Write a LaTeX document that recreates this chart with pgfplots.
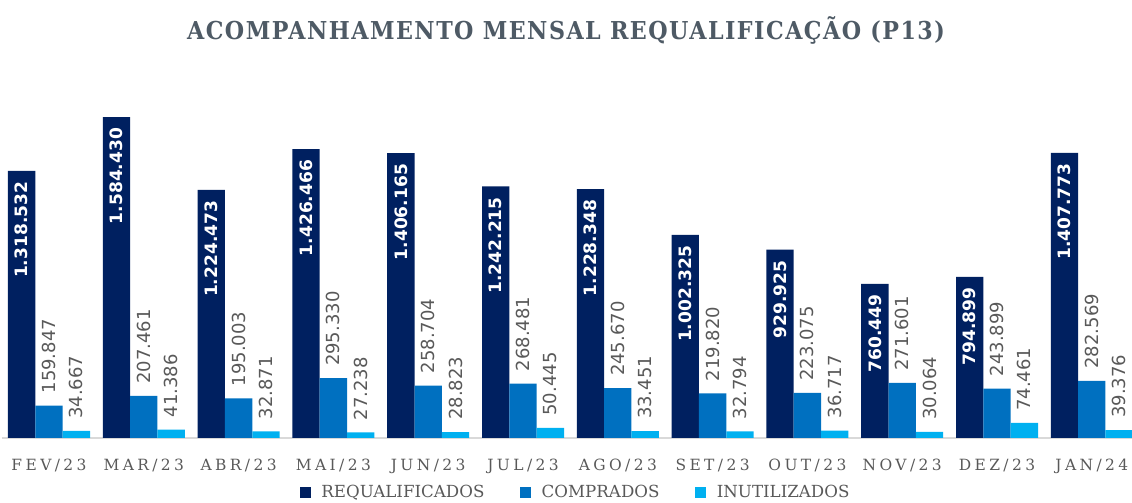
\documentclass[border=0pt]{standalone}
\usepackage{fontspec}
\usepackage{pgfplots}
\pgfplotsset{compat=1.18}
\setmainfont{DejaVu Serif}
\newfontfamily\titlefont[FakeStretch=0.9, LetterSpace=6]{DejaVu Serif}
\newfontfamily\tickfont[LetterSpace=22]{DejaVu Serif}
\newfontfamily\legfont{DejaVu Serif}
\newfontfamily\labfont{DejaVu Sans}
\definecolor{cReq}{HTML}{002060}
\definecolor{cComp}{HTML}{0070C0}
\definecolor{cInut}{HTML}{00B0F0}
\definecolor{cLab}{HTML}{595959}
\definecolor{cTitle}{HTML}{4E5A65}
\begin{document}
\begin{tikzpicture}
\path[use as bounding box] (0pt,-48.75pt) rectangle (849pt,328.5pt);
\begin{axis}[
  at={(1.2pt,0pt)}, anchor=south west,
  scale only axis, width=853.2pt, height=258.3pt,
  ymin=0, ymax=1700000, xmin=-0.5, xmax=11.5,
  ybar=0pt, bar width=20.5pt,
  axis y line=none, axis x line*=bottom,
  x axis line style={draw=black!15, line width=0.8pt, -},
  xtick={0,...,11},
  xticklabels={FEV/23,MAR/23,ABR/23,MAI/23,JUN/23,JUL/23,AGO/23,SET/23,OUT/23,NOV/23,DEZ/23,JAN/24},
  major tick length=0pt,
  xticklabel style={anchor=base, yshift=-24.5pt, font=\tickfont\fontsize{11.6}{11.6}\selectfont, text=cLab},
  clip=false,
  point meta=explicit symbolic,
  nodes near coords={\pgfplotspointmeta},
  legend style={at={(0.505,-0.159)}, anchor=center, draw=none, legend columns=3,
    font=\legfont\fontsize{12.5}{12.5}\selectfont, text=cLab,
    /tikz/every even column/.append style={column sep=25pt},
    /tikz/every odd column/.append style={column sep=6pt}},
  legend image code/.code={\fill[#1] (0pt,-4pt) rectangle (8pt,4pt);},
]
\addplot[fill=cReq, draw=none,
  nodes near coords style={rotate=90, anchor=east, text=white, inner xsep=8pt, inner ysep=0pt,
    font=\labfont\bfseries\fontsize{12.8}{12.8}\selectfont}]
coordinates {
(0,1318532)[1.318.532] (1,1584430)[1.584.430] (2,1224473)[1.224.473] (3,1426466)[1.426.466]
(4,1406165)[1.406.165] (5,1242215)[1.242.215] (6,1228348)[1.228.348] (7,1002325)[1.002.325]
(8,929925)[929.925] (9,760449)[760.449] (10,794899)[794.899] (11,1407773)[1.407.773]};
\addlegendentry{REQUALIFICADOS}
\addplot[fill=cComp, draw=none,
  nodes near coords style={rotate=90, anchor=west, text=cLab, inner xsep=9pt, inner ysep=0pt,
    font=\labfont\fontsize{13.5}{13.5}\selectfont}]
coordinates {
(0,159847)[159.847] (1,207461)[207.461] (2,195003)[195.003] (3,295330)[295.330]
(4,258704)[258.704] (5,268481)[268.481] (6,245670)[245.670] (7,219820)[219.820]
(8,223075)[223.075] (9,271601)[271.601] (10,243899)[243.899] (11,282569)[282.569]};
\addlegendentry{COMPRADOS}
\addplot[fill=cInut, draw=none,
  nodes near coords style={rotate=90, anchor=west, text=cLab, inner xsep=9pt, inner ysep=0pt,
    font=\labfont\fontsize{13.5}{13.5}\selectfont}]
coordinates {
(0,34667)[34.667] (1,41386)[41.386] (2,32871)[32.871] (3,27238)[27.238]
(4,28823)[28.823] (5,50445)[50.445] (6,33451)[33.451] (7,32794)[32.794]
(8,36717)[36.717] (9,30064)[30.064] (10,74461)[74.461] (11,39376)[39.376]};
\addlegendentry{INUTILIZADOS}
\end{axis}
\node[font=\titlefont\bfseries\fontsize{18.5}{18.5}\selectfont, text=cTitle] at (424.5pt,306pt) {ACOMPANHAMENTO MENSAL REQUALIFICAÇÃO (P13)};
\end{tikzpicture}
\end{document}
